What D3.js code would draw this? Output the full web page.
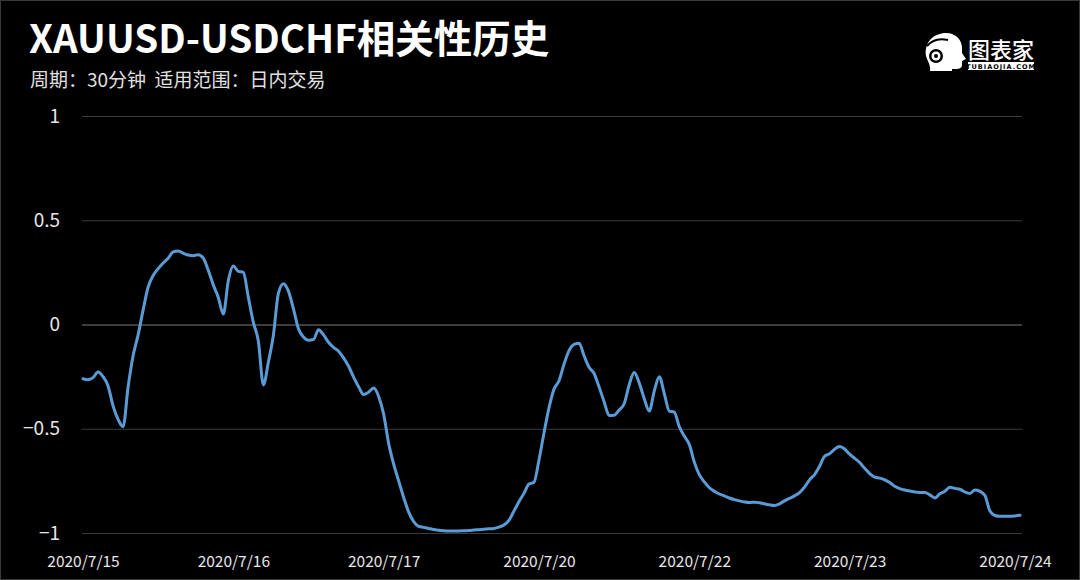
<!DOCTYPE html>
<html>
<head>
<meta charset="utf-8">
<script src="https://cdn.jsdelivr.net/npm/d3@7"></script>
<style>
  html, body { margin: 0; padding: 0; background: #000; }
  svg { display: block; }
</style>
</head>
<body>
<svg id="chart" width="1080" height="580"></svg>
<script>
// ---- data ----
const title = "XAUUSD-USDCHF相关性历史";
const subtitle = "周期：30分钟  适用范围：日内交易";
const yTicks = [1, 0.5, 0, -0.5, -1];
const xTickLabels = ["2020/7/15", "2020/7/16", "2020/7/17", "2020/7/20", "2020/7/22", "2020/7/23", "2020/7/24"];
const xTickIndex = [0, 30, 60, 91, 122, 153, 186];
const correlation = [
  -0.26, -0.265, -0.255, -0.228, -0.25, -0.295, -0.39, -0.455, -0.49, -0.30,
  -0.15, -0.05, 0.07, 0.18, 0.235, 0.268, 0.295, 0.318, 0.348, 0.353,
  0.342, 0.333, 0.33, 0.335, 0.318, 0.26, 0.19, 0.13, 0.05, 0.21,
  0.28, 0.255, 0.25, 0.13, 0.01, -0.08, -0.29, -0.18, -0.05, 0.15,
  0.196, 0.16, 0.075, -0.02, -0.06, -0.075, -0.072, -0.025, -0.05, -0.085,
  -0.11, -0.128, -0.16, -0.20, -0.252, -0.298, -0.336, -0.325, -0.305, -0.345,
  -0.43, -0.57, -0.67, -0.75, -0.83, -0.90, -0.945, -0.968, -0.973, -0.978,
  -0.983, -0.987, -0.989, -0.99, -0.99, -0.99, -0.989, -0.988, -0.986, -0.984,
  -0.982, -0.98, -0.978, -0.972, -0.962, -0.94, -0.895, -0.85, -0.81, -0.765,
  -0.757, -0.65, -0.52, -0.40, -0.31, -0.27, -0.19, -0.125, -0.095, -0.09,
  -0.15, -0.205, -0.235, -0.30, -0.37, -0.436, -0.435, -0.41, -0.38, -0.29,
  -0.23, -0.28, -0.355, -0.415, -0.32, -0.25, -0.33, -0.415, -0.42, -0.49,
  -0.535, -0.575, -0.66, -0.72, -0.755, -0.783, -0.80, -0.813, -0.822, -0.832,
  -0.84, -0.846, -0.851, -0.854, -0.852, -0.855, -0.86, -0.865, -0.868, -0.86,
  -0.846, -0.834, -0.822, -0.806, -0.78, -0.745, -0.72, -0.68, -0.632, -0.62,
  -0.598, -0.585, -0.597, -0.622, -0.642, -0.662, -0.69, -0.715, -0.732, -0.737,
  -0.745, -0.758, -0.776, -0.787, -0.794, -0.799, -0.803, -0.806, -0.806, -0.817,
  -0.832, -0.812, -0.80, -0.78, -0.786, -0.79, -0.803, -0.81, -0.794, -0.80,
  -0.82, -0.895, -0.916, -0.92, -0.92, -0.92, -0.918, -0.915
];

// ---- layout ----
const W = 1080, H = 580;
const plot = { left: 83, right: 1020, top: 116, bottom: 533 };
const svg = d3.select("#chart");
const FONT = "'Noto Sans CJK SC', 'Noto Sans', sans-serif";

svg.append("rect").attr("x", 0.5).attr("y", 0.5).attr("width", W - 1).attr("height", H - 1)
  .attr("fill", "#000").attr("stroke", "#3a3a3a").attr("stroke-width", 1);

const x = d3.scaleLinear().domain([0, correlation.length - 1]).range([plot.left, plot.right]);
const y = d3.scaleLinear().domain([-1, 1]).range([plot.bottom, plot.top]);

// gridlines + y labels
const yAxis = d3.axisLeft(y).tickValues(yTicks).tickSize(-(plot.right + 2 - (plot.left - 1)))
  .tickFormat(d => d3.format("")(d));
const gy = svg.append("g").attr("transform", `translate(${plot.left - 1},0)`).call(yAxis);
gy.select(".domain").remove();
gy.selectAll(".tick line")
  .attr("stroke", d => d === 0 ? "#7a7a7a" : "#3c3c3c")
  .attr("stroke-width", d => d === 0 ? 1.2 : 1);
gy.selectAll(".tick text")
  .attr("x", -22).attr("fill", "#e6e6e6")
  .style("font-family", FONT).style("font-size", "19px");

// x labels
const xAxis = d3.axisBottom(x).tickValues(xTickIndex).tickSize(0)
  .tickFormat((d, i) => xTickLabels[i]);
const gx = svg.append("g").attr("transform", `translate(0,${plot.bottom + 20})`).call(xAxis);
gx.select(".domain").remove();
gx.selectAll(".tick text").attr("fill", "#e6e6e6")
  .style("font-family", FONT).style("font-size", "15.5px");

// line
const line = d3.line().x((d, i) => x(i)).y(d => y(d)).curve(d3.curveMonotoneX);
svg.append("path").datum(correlation).attr("d", line)
  .attr("fill", "none").attr("stroke", "#5b9bd5").attr("stroke-width", 3)
  .attr("stroke-linejoin", "round").attr("stroke-linecap", "round");

// title
svg.append("text").attr("x", 29).attr("y", 52.5).text(title)
  .attr("fill", "#fff").style("font-family", FONT).style("font-weight", 700).style("font-size", "38.5px");
svg.append("text").attr("x", 30).attr("y", 87).text(subtitle)
  .style("white-space", "pre")
  .attr("fill", "#e0e0e0").style("font-family", FONT).style("font-size", "19px");

// logo
const logo = svg.append("g").attr("transform", "translate(922,32)");
logo.append("path")
  .attr("d", "M4,24 C2,10 12,1 24,1 C34,1 40,8 40,16 L40,21 L44,27 L40,29 L40,33 C40,36 37,37 34,37 L30,37 L30,39 L8,39 C9,34 6,30 4,24 Z")
  .attr("fill", "#fff");
logo.append("circle").attr("cx", 14).attr("cy", 24).attr("r", 7).attr("fill", "#000");
logo.append("circle").attr("cx", 14).attr("cy", 24).attr("r", 4.5).attr("fill", "#fff");
logo.append("circle").attr("cx", 14).attr("cy", 24).attr("r", 2).attr("fill", "#000");
logo.append("path").attr("d", "M5,14 C10,8 18,6 26,8").attr("stroke", "#000").attr("stroke-width", 2).attr("fill", "none");
logo.append("text").attr("x", 46).attr("y", 26).text("图表家")
  .attr("fill", "#fff").style("font-family", FONT).style("font-size", "22px").style("font-weight", 500);
logo.append("rect").attr("x", 46).attr("y", 30).attr("width", 66).attr("height", 8).attr("fill", "#fff");
logo.append("text").attr("x", 79).attr("y", 36.5).attr("text-anchor", "middle").text("TUBIAOJIA.COM")
  .attr("fill", "#000").style("font-family", "DejaVu Sans, sans-serif").style("font-size", "6.5px")
  .style("letter-spacing", "1px").style("font-weight", 700);
</script>
</body>
</html>
